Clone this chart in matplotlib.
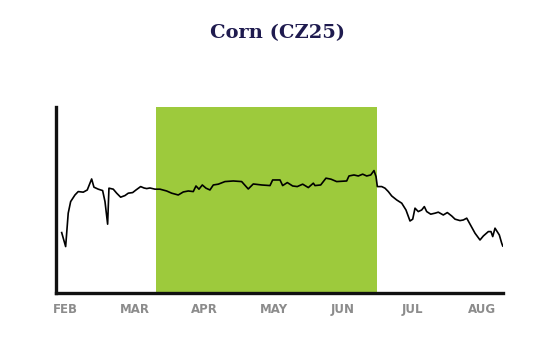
import matplotlib.pyplot as plt

# Datos: posición en meses (FEB = 0) y precio aproximado
months = ['FEB', 'MAR', 'APR', 'MAY', 'JUN', 'JUL', 'AUG']
t = [-0.047, 0.010, 0.047, 0.082, 0.144, 0.191, 0.263, 0.321, 0.384, 0.417,
     0.479, 0.542, 0.576, 0.614, 0.633, 0.695, 0.744, 0.801, 0.863, 0.911,
     0.974, 1.022, 1.089, 1.137, 1.176, 1.223, 1.295, 1.367, 1.463, 1.535,
     1.630, 1.702, 1.774, 1.846, 1.885, 1.928, 1.976, 2.029, 2.086, 2.134,
     2.206, 2.302, 2.422, 2.542, 2.637, 2.709, 2.830, 2.950, 2.988, 3.094,
     3.132, 3.199, 3.276, 3.342, 3.420, 3.501, 3.573, 3.597, 3.679, 3.755,
     3.827, 3.909, 4.053, 4.086, 4.158, 4.220, 4.283, 4.341, 4.399, 4.446,
     4.475, 4.494, 4.557, 4.604, 4.652, 4.701, 4.773, 4.845, 4.906, 4.964,
     5.003, 5.036, 5.083, 5.132, 5.170, 5.204, 5.262, 5.324, 5.371, 5.443,
     5.501, 5.564, 5.612, 5.683, 5.731, 5.780, 5.842, 5.899, 5.971, 6.019,
     6.091, 6.129, 6.154, 6.187, 6.249, 6.283, 6.298]
price = [448.7, 441.7, 458.4, 464.2, 467.5, 469.2, 468.9, 470.0, 475.5, 471.4,
         470.4, 469.7, 464.2, 452.9, 470.9, 470.4, 468.4, 466.4, 467.2, 468.4,
         468.7, 470.0, 471.7, 471.0, 470.7, 471.0, 470.4, 470.4, 469.5, 468.4,
         467.5, 469.0, 469.5, 469.2, 472.0, 470.4, 472.5, 470.9, 470.0, 472.5,
         472.9, 474.2, 474.5, 474.2, 470.5, 473.0, 472.5, 472.2, 475.0, 475.0,
         472.2, 473.7, 472.0, 471.7, 472.9, 471.2, 473.4, 472.2, 472.5, 475.9,
         475.4, 474.2, 474.5, 477.0, 477.5, 477.0, 477.9, 477.0, 477.5, 479.7,
         476.7, 471.7, 471.7, 470.9, 469.2, 467.0, 465.0, 463.4, 460.0, 454.5,
         455.4, 460.9, 459.2, 460.0, 461.7, 459.2, 457.9, 458.4, 458.9, 457.5,
         458.7, 457.0, 455.4, 454.7, 455.0, 455.9, 452.0, 448.4, 445.0, 447.0,
         449.2, 449.2, 446.7, 450.9, 447.5, 443.4, 442.0]

# Ventana resaltada (en meses)
span_start, span_end = 1.31, 4.49

fig = plt.figure(figsize=(5.51, 3.53), dpi=100)
ax = fig.add_axes([0.1016, 0.170, 0.8113, 0.527])

ax.axvspan(span_start, span_end, color='#9dca3c', lw=0, zorder=1)
ax.plot(t, price, color='black', lw=1.2, zorder=3)

ax.set_xlim(-0.129, 6.302)
ax.set_ylim(418.5, 511.5)

for s in ['top', 'right']:
    ax.spines[s].set_visible(False)
for s in ['left', 'bottom']:
    ax.spines[s].set_linewidth(2.4)
    ax.spines[s].set_color('#111111')

ax.set_yticks([])
ax.set_xticks(range(len(months)))
ax.set_xticklabels(months, color='#8c8c8c', fontweight='bold', fontsize=8.5)
ax.tick_params(axis='x', length=0, pad=7)

fig.text(0.503, 0.905, 'Corn (CZ25)', ha='center', va='center',
         family='DejaVu Serif', fontweight='bold', fontsize=14, color='#1f1b4f')

fig.savefig('out.png', dpi=100)
